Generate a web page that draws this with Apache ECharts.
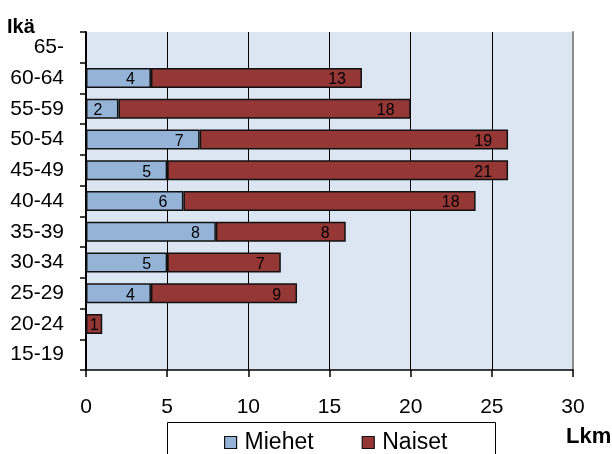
<!DOCTYPE html>
<html>
<head>
<meta charset="utf-8">
<script src="https://cdn.jsdelivr.net/npm/echarts@6/dist/echarts.min.js"></script>
<style>
html,body{margin:0;padding:0;background:#fff;}
#c{width:612px;height:454px;}
</style>
</head>
<body>
<div id="c"></div>
<script>
var categories = ['15-19','20-24','25-29','30-34','35-39','40-44','45-49','50-54','55-59','60-64','65-'];
var miehet = [0,0,4,5,8,6,5,7,2,4,0];
var naiset = [0,1,9,7,8,18,21,19,18,13,0];
var xTicks = [0,5,10,15,20,25,30];
var seriesNames = ['Miehet','Naiset'];
var yTitle = 'Ikä';
var xTitle = 'Lkm';

var FONT = '"Liberation Sans", Arial, sans-serif';
var gridW = 487, xMax = 30;
var pxPerUnit = gridW / xMax;

function buildData(arr) {
  return arr.map(function (v) {
    var narrow = v * pxPerUnit < 24;
    return {
      value: v,
      itemStyle: v > 0 ? {} : { borderWidth: 0 },
      label: {
        show: v > 0,
        position: narrow ? 'inside' : 'insideRight',
        distance: narrow ? 0 : 16
      }
    };
  });
}

var labelCommon = {
  color: '#000',
  fontFamily: FONT,
  fontSize: 16,
  offset: [0, 2],
  formatter: function (p) { return p.value > 0 ? String(p.value) : ''; }
};

var chart = echarts.init(document.getElementById('c'), null, { renderer: 'canvas' });
chart.setOption({
  animation: false,
  backgroundColor: '#fff',
  textStyle: { fontFamily: FONT },
  grid: {
    left: 86, top: 32, width: gridW, height: 338,
    show: true, backgroundColor: '#dce6f2', borderWidth: 0,
    containLabel: false
  },
  legend: {
    left: 219, top: 426,
    icon: 'rect',
    itemWidth: 12, itemHeight: 12, itemGap: 48,
    data: seriesNames,
    itemStyle: { borderColor: '#111', borderWidth: 1.2 },
    textStyle: { fontFamily: FONT, fontSize: 23, color: '#000', padding: [0, 0, 0, 3] }
  },
  xAxis: {
    type: 'value', min: xTicks[0], max: xTicks[xTicks.length - 1], interval: 5,
    axisLine: { show: true, onZero: false, lineStyle: { color: '#000', width: 1.5 } },
    axisTick: { show: true, length: 7, lineStyle: { color: '#000', width: 1.5 } },
    axisLabel: { color: '#000', fontFamily: FONT, fontSize: 21, margin: 27 },
    splitLine: { show: true, showMinLine: false, showMaxLine: false, lineStyle: { color: '#000', width: 1 } }
  },
  yAxis: [{
    type: 'category', data: categories, position: 'left',
    axisLine: { show: true, lineStyle: { color: '#000', width: 2 } },
    axisTick: { show: true, length: 6, lineStyle: { color: '#000', width: 1.5 } },
    axisLabel: { color: '#000', fontFamily: FONT, fontSize: 21, margin: 22 },
    splitLine: { show: false }
  }, {
    type: 'category', data: categories, position: 'right',
    axisLine: { show: true, lineStyle: { color: '#8c8c8c', width: 2 } },
    axisTick: { show: false }, axisLabel: { show: false }, splitLine: { show: false }
  }],
  series: [{
    name: seriesNames[0], type: 'bar', stack: 'a', barWidth: 20,
    itemStyle: { color: '#95b3d7', borderColor: '#111', borderWidth: 1.5 },
    label: labelCommon,
    data: buildData(miehet)
  }, {
    name: seriesNames[1], type: 'bar', stack: 'a', barWidth: 20,
    itemStyle: { color: '#953735', borderColor: '#111', borderWidth: 1.5 },
    label: labelCommon,
    data: buildData(naiset)
  }],
  graphic: [
    { type: 'rect', shape: { x: 167.5, y: 422.5, width: 328, height: 60 }, style: { fill: 'none', stroke: '#000', lineWidth: 1 }, z: -1 },
    { type: 'text', left: 7, top: 17, style: { text: yTitle, font: 'bold 20px ' + FONT, fill: '#000' } },
    { type: 'text', left: 566, top: 426, style: { text: xTitle, font: 'bold 22px ' + FONT, fill: '#000' } }
  ]
});
</script>
</body>
</html>
